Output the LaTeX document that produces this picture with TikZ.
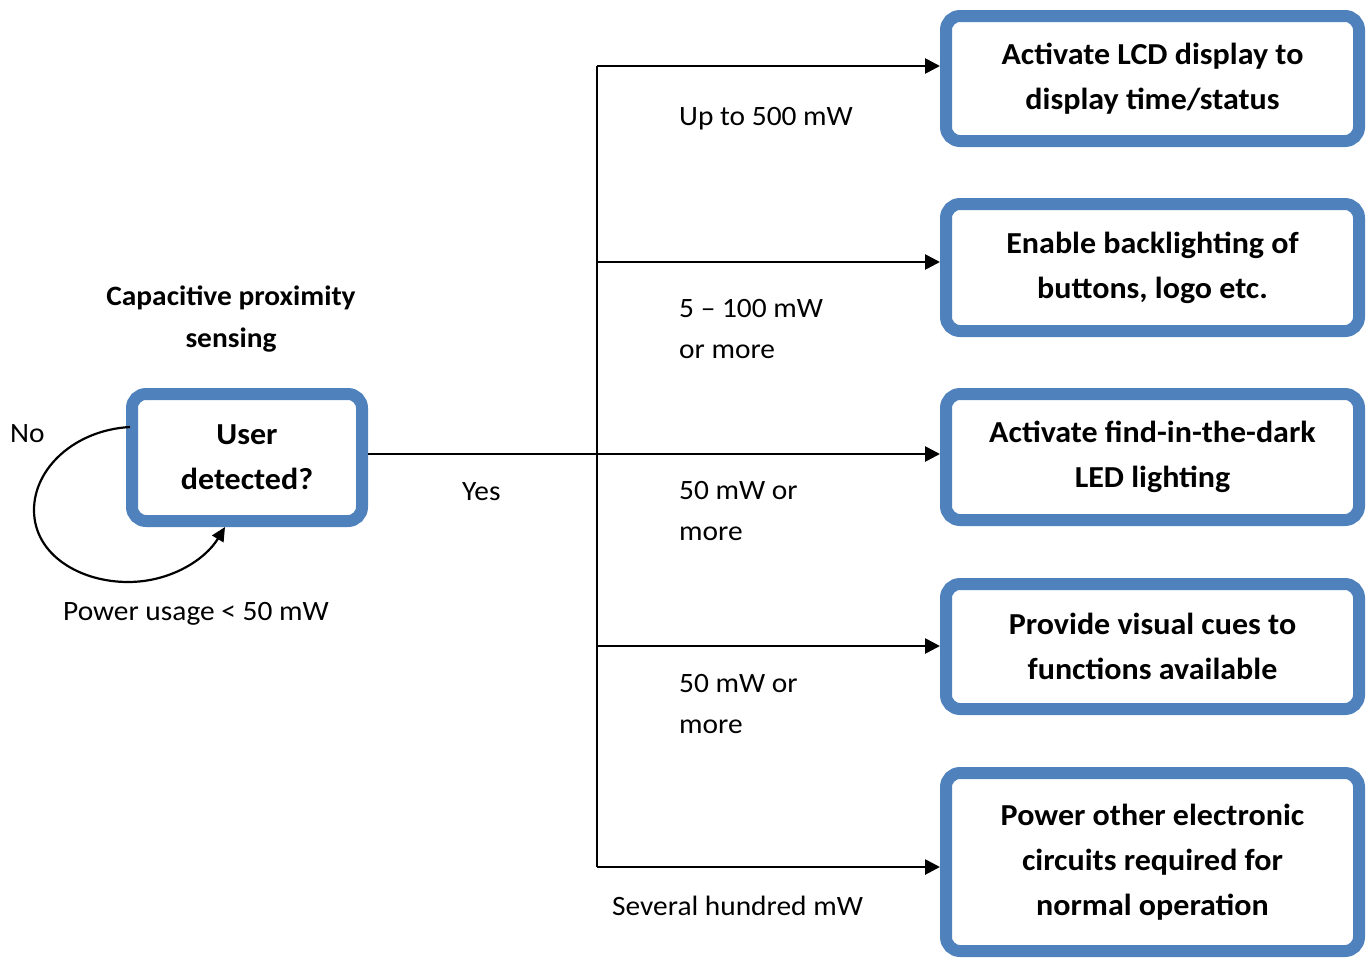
\documentclass[tikz,border=0pt]{standalone}
\usepackage{fontspec}
\setmainfont{Carlito}[FakeStretch=1.05]
\usetikzlibrary{arrows.meta}
\definecolor{boxblue}{HTML}{4F81BD}
\begin{document}
\begin{tikzpicture}[x=1pt,y=-1pt,
  bluebox/.style={draw=boxblue,line width=12pt,rounded corners=14pt,fill=white,
    align=center,inner sep=0pt,font=\fontsize{30.5}{45}\selectfont\bfseries},
  lbl/.style={anchor=base west,inner sep=0pt,align=left,font=\fontsize{28}{41}\selectfont},
  conn/.style={line width=2.7pt},
  arr/.style={line width=2.7pt,-{Triangle[length=15pt,width=15pt]}}]
\useasboundingbox (0,0) rectangle (1366,959);
% boxes
\node[bluebox,minimum width=413,minimum height=125] (b1) at (1152.5,78.5) {Activate LCD display to\\display time/status};
\node[bluebox,minimum width=413,minimum height=127] (b2) at (1152.5,267.5) {Enable backlighting of\\buttons, logo etc.};
\node[bluebox,minimum width=413,minimum height=126] (b3) at (1152.5,457) {Activate find-in-the-dark\\LED lighting};
\node[bluebox,minimum width=413,minimum height=125] (b4) at (1152.5,646.5) {Provide visual cues to\\functions available};
\node[bluebox,minimum width=413,minimum height=178] (b5) at (1152.5,862) {Power other electronic\\circuits required for\\normal operation};
\node[bluebox,minimum width=230,minimum height=127] (user) at (247,457.5) {User\\detected?};
% trunk
\coordinate (t1) at (597,66);
\coordinate (t2) at (597,262);
\coordinate (j) at (597,454);
\coordinate (t4) at (597,646);
\coordinate (t5) at (597,867);
\draw[conn] (t1) -- (t5);
\draw[conn] (user.east |- j) -- (j);
\draw[arr] (t1) -- (t1 -| b1.west);
\draw[arr] (t2) -- (t2 -| b2.west);
\draw[arr] (j) -- (j -| b3.west);
\draw[arr] (t4) -- (t4 -| b4.west);
\draw[arr] (t5) -- (t5 -| b5.west);
% loop
\coordinate (ls) at (130,427);
\coordinate (le) at (225,527);
\draw[line width=2.2pt,-{Triangle[length=14pt,width=13pt]}] (ls) .. controls (75,430) and (34,468) .. (34,510)
  .. controls (34,555) and (80,582) .. (128,582)
  .. controls (170,582) and (205,560) .. (le);
% labels
\node[lbl] (l1) at (679,125) {Up to 500 mW};
\node[lbl] (l2) at (679,358) {5 – 100 mW\\or more};
\node[lbl] (l3) at (679,540) {50 mW or\\more};
\node[lbl] (l4) at (679,733) {50 mW or\\more};
\node[lbl] (l5) at (612,915) {Several hundred mW};
\node[lbl] (yes) at (462,500) {Yes};
\node[lbl] (no) at (10,442) {No};
\node[lbl] (pu) at (63,620) {Power usage < 50 mW};
\node[anchor=base,inner sep=0pt,align=center,font=\fontsize{28}{42}\selectfont\bfseries] (cap) at (231,347) {Capacitive proximity\\sensing};
\end{tikzpicture}
\end{document}
